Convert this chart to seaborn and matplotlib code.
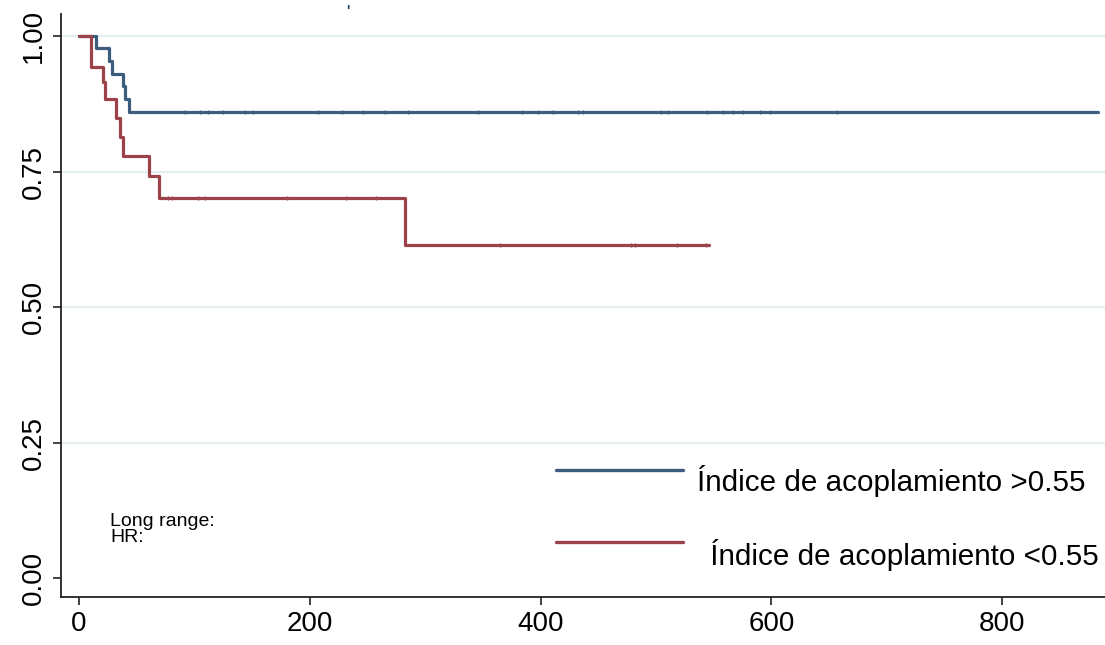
import numpy as np
import pandas as pd
import matplotlib
matplotlib.use("Agg")
import matplotlib.pyplot as plt
import seaborn as sns
from matplotlib.lines import Line2D

# ---- data ----
hi_times = [0, 15, 26, 29, 38, 40, 43, 883]
hi_surv = [1.0, 0.977, 0.953, 0.930, 0.907, 0.884, 0.860, 0.860]
hi_censor = [92, 105, 112, 125, 144, 151, 207, 228, 246, 265, 285, 346, 384,
             398, 411, 432, 437, 504, 510, 544, 558, 567, 575, 590, 599, 657]

lo_times = [0, 10, 20.5, 22.5, 32, 35.5, 38.5, 61, 69, 282.5, 546]
lo_surv = [1.0, 0.943, 0.915, 0.884, 0.849, 0.813, 0.779, 0.742, 0.702, 0.614, 0.614]
lo_censor = [77, 81, 103, 109, 180, 231, 257, 365, 478, 482, 518, 543]

labels = ["Índice de acoplamiento >0.55", " Índice de acoplamiento <0.55"]
x_ticks = [0, 200, 400, 600, 800]
y_ticks = [0.00, 0.25, 0.50, 0.75, 1.00]
annot_lines = ["Long range:", "HR:"]

c_hi = "#3d5d7e"
c_lo = "#9c424a"

sns.set_theme(style="white")
plt.rcParams["font.family"] = ["Liberation Sans", "DejaVu Sans"]

fig = plt.figure(figsize=(11.05, 6.45), dpi=100)
ax = fig.add_axes([61 / 1105, 1 - 597 / 645, 1 - 61 / 1105, (597 - 14) / 645])

df_hi = pd.DataFrame({"t": hi_times, "s": hi_surv})
df_lo = pd.DataFrame({"t": lo_times, "s": lo_surv})

for y in y_ticks[1:]:
    ax.axhline(y, color="#e6eef1", lw=1.6, zorder=0)

sns.lineplot(data=df_hi, x="t", y="s", ax=ax, color=c_hi, lw=2.3,
             drawstyle="steps-post", estimator=None, sort=False, zorder=3)
sns.lineplot(data=df_lo, x="t", y="s", ax=ax, color=c_lo, lw=2.3,
             drawstyle="steps-post", estimator=None, sort=False, zorder=3)

def surv_at(times, surv, pts):
    idx = np.searchsorted(times, pts, side="right") - 1
    return np.asarray(surv)[idx]

df_hc = pd.DataFrame({"t": hi_censor, "s": surv_at(hi_times, hi_surv, hi_censor)})
df_lc = pd.DataFrame({"t": lo_censor, "s": surv_at(lo_times, lo_surv, lo_censor)})
sns.scatterplot(data=df_hc, x="t", y="s", ax=ax, marker="|", s=12,
                color=c_hi, linewidth=1.0, zorder=4)
sns.scatterplot(data=df_lc, x="t", y="s", ax=ax, marker="|", s=12,
                color=c_lo, linewidth=1.0, zorder=4)

ax.set_xlim(-15.6, 889)
ax.set_ylim(-0.035, 1.0406)
ax.set_xticks(x_ticks)
ax.set_xticklabels([str(v) for v in x_ticks])
ax.set_yticks(y_ticks)
ax.set_yticklabels([f"{v:.2f}" for v in y_ticks], rotation=90, va="center")
ax.tick_params(axis="both", which="both", direction="out", length=6, width=1.2,
               colors="#222222", labelsize=20, labelcolor="black",
               left=True, bottom=True)
ax.tick_params(axis="y", pad=4)
ax.tick_params(axis="x", pad=4)
ax.set_xlabel("")
ax.set_ylabel("")
for sp in ["top", "right"]:
    ax.spines[sp].set_visible(False)
for sp in ["left", "bottom"]:
    ax.spines[sp].set_color("#222222")
    ax.spines[sp].set_linewidth(1.3)

# legend (manual placement as in reference)
for (yl, yt, xt, col, lab) in [(470, 481, 697, c_hi, labels[0]),
                               (542, 555, 702, c_lo, labels[1])]:
    fig.add_artist(Line2D([556 / 1105, 683 / 1105], [1 - yl / 645, 1 - yl / 645],
                          color=col, lw=2.4))
    fig.text(xt / 1105, 1 - yt / 645, lab, fontsize=21.3, va="center", ha="left",
             color="black")

fig.text(110 / 1105, 1 - 521 / 645, annot_lines[0], fontsize=14, va="center", ha="left",
         color="black")
fig.text(110 / 1105, 1 - 538 / 645, annot_lines[1], fontsize=14, va="center", ha="left",
         color="black")

# small stray mark at the top of the reference
fig.text(348 / 1105, 1 - 11 / 645, "'", fontsize=10, color="#1a3a66", ha="center", va="center",
         fontweight="bold")

fig.savefig("out.png", dpi=100)
